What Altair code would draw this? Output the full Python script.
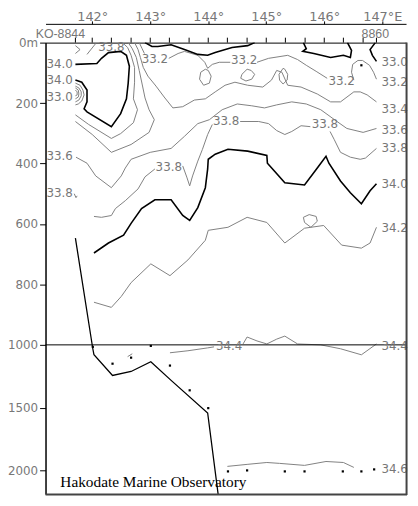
import altair as alt
import pandas as pd

# ---------------- frame / axes values ----------------
lon_domain = [141.195, 147.41]
dep_domain = [0, 1000, 2188]          # piecewise depth scale (0-1000 stretched)
dep_ticks = [0, 200, 400, 600, 800, 1000, 1500, 2000]
lon_ticks = [142, 143, 144, 145, 146, 147]
stations = [141.71, 142.00, 142.33, 142.67, 143.00, 143.33, 143.67, 144.00, 144.33,
            144.67, 145.00, 145.33, 145.67, 146.00, 146.33, 146.67, 146.90]
station_names = ["KO-8844", "8860"]
station_name_lon = [141.45, 146.88]

# ---------------- thick contours (33.0 / 34.0) ----------------
t330a_lon = [142.91, 143.03, 143.13, 143.36, 143.59, 143.82, 143.99, 144.12, 144.41, 144.68, 144.80]
t330a_dep = [0, 13, 13, 7, 23, 39, 42, 33, 16, 10, 0]
t330b_lon = [145.64, 145.69, 145.63, 145.82, 146.11, 146.33, 146.45, 146.47, 146.40]
t330b_dep = [0, 20, 29, 36, 49, 42, 49, 26, 0]
t330c_lon = [146.88, 146.79, 146.83, 146.90]
t330c_dep = [0, 23, 42, 62]
t340a_lon = [141.71, 142.08, 142.16, 142.28, 142.49, 142.59, 142.64, 142.62, 142.59, 142.49,
             142.33, 141.91, 141.86, 141.91, 141.91, 141.82, 141.71]
t340a_dep = [72, 69, 52, 33, 29, 42, 78, 134, 186, 235, 278, 229, 219, 196, 157, 131, 124]
t340b_lon = [142.03, 142.28, 142.54, 142.67, 142.85, 143.08, 143.36, 143.56, 143.68, 143.82,
             143.95, 143.99, 144.00, 144.12, 144.34, 144.68, 145.01, 145.02, 145.14, 145.32,
             145.66, 145.88, 146.03, 146.08, 146.28, 146.45, 146.64, 146.79, 146.90]
t340b_dep = [696, 663, 637, 598, 549, 520, 520, 572, 588, 546, 480, 418, 386, 369, 353, 359,
             373, 399, 425, 464, 471, 415, 376, 399, 458, 497, 533, 490, 467]

# ---------------- thin contours ----------------
c332a_lon = [142.81, 142.86, 142.90]
c332a_dep = [0, 20, 36]
c332b_lon = [143.32, 143.48, 143.59, 143.82, 143.94, 143.99, 144.07, 144.19, 144.38]
c332b_dep = [52, 36, 29, 42, 65, 85, 72, 65, 65]
c332c_lon = [144.84, 145.04, 145.37, 145.54, 145.69, 145.86, 146.05]
c332c_dep = [65, 52, 42, 56, 75, 95, 118]
c332d_lon = [146.51, 146.47, 146.49, 146.58, 146.66, 146.78, 146.85, 146.90]
c332d_dep = [124, 98, 72, 59, 59, 75, 98, 121]
loop1_lon = [144.67, 144.58, 144.56, 144.65, 144.75, 144.80, 144.74, 144.67]
loop1_dep = [88, 105, 118, 127, 121, 105, 92, 88]
loop2_lon = [145.29, 145.22, 145.23, 145.29, 145.36, 145.37, 145.32, 145.29]
loop2_dep = [85, 105, 124, 137, 124, 105, 88, 85]
loop3_lon = [143.95, 143.87, 143.85, 143.92, 144.02, 144.05, 144.00, 143.95]
loop3_dep = [88, 98, 121, 141, 134, 111, 92, 88]
c334_lon = [146.90, 146.74, 146.62, 146.51, 146.28, 146.11, 145.88, 145.60, 145.37, 145.27,
            145.18, 145.09, 144.94, 144.68, 144.46, 144.29, 144.12, 143.95, 143.76, 143.56,
            143.39, 143.24, 143.10, 142.96, 142.88, 142.83, 142.79, 142.73]
c334_dep = [196, 173, 163, 163, 196, 196, 170, 147, 141, 98, 92, 124, 147, 141, 131, 141,
            163, 186, 190, 212, 216, 180, 144, 111, 82, 49, 23, 0]
c336a_lon = [142.62, 142.69, 142.76, 142.81, 142.86, 142.91, 142.98, 143.07, 142.98, 142.67,
             142.33, 142.00, 141.71]
c336a_dep = [0, 20, 49, 92, 137, 183, 222, 255, 297, 337, 363, 304, 261]
c336b_lon = [146.90, 146.67, 146.39, 146.22, 145.94, 145.69, 145.44, 145.18, 144.97, 144.75,
             144.50, 144.24, 144.02, 143.82, 143.59, 143.36, 143.00, 142.67, 142.57, 142.50,
             142.33, 142.06, 141.91, 141.72]
c336b_dep = [284, 297, 284, 261, 222, 203, 196, 206, 216, 209, 203, 222, 255, 268, 310, 350,
             363, 386, 415, 441, 480, 441, 399, 379]
c338a_lon = [142.52, 142.61, 142.67, 142.73, 142.73, 142.71, 142.78, 142.71, 142.49, 142.33,
             141.94, 141.71]
c338a_dep = [0, 16, 42, 82, 131, 186, 222, 265, 301, 317, 271, 239]
c338b_lon = [146.90, 146.71, 146.62, 146.45, 146.28, 146.17, 146.10]
c338b_dep = [350, 382, 386, 379, 363, 320, 294]
c338c_lon = [145.76, 145.60, 145.44, 145.32, 145.18, 145.04, 144.87, 144.55]
c338c_dep = [278, 275, 294, 304, 291, 268, 261, 261]
c338d_lon = [144.07, 143.99, 143.90, 143.82, 143.73, 143.68, 143.63, 143.56]
c338d_dep = [271, 304, 353, 392, 441, 474, 445, 408]
c338e_lon = [143.08, 142.91, 142.79, 142.57, 142.40, 142.33, 142.16, 142.03]
c338e_dep = [418, 444, 484, 523, 549, 572, 578, 575]
c338f_lon = [141.69, 141.72, 141.74]
c338f_dep = [500, 513, 507]
arc1_lon = [141.71, 141.79, 141.84, 141.86, 141.82, 141.76, 141.71]
arc1_dep = [134, 141, 157, 173, 193, 203, 206]
arc2_lon = [141.71, 141.77, 141.81, 141.81, 141.77, 141.71]
arc2_dep = [144, 150, 163, 176, 190, 196]
arc3_lon = [141.71, 141.76, 141.77, 141.76, 141.71]
arc3_dep = [150, 157, 170, 180, 186]
arc4_lon = [141.71, 141.74, 141.74, 141.71]
arc4_dep = [157, 163, 173, 176]
top1_lon = [141.71, 141.79, 141.71]
top1_dep = [10, 23, 36]
top2_lon = [142.06, 141.91]
top2_dep = [3, 39]
c342_lon = [142.03, 142.33, 142.50, 142.67, 143.01, 143.34, 143.65, 143.95, 144.00, 144.34,
            144.67, 145.01, 145.32, 145.66, 145.77, 145.99, 146.30, 146.64, 146.79, 146.90]
c342_dep = [859, 876, 840, 794, 732, 771, 719, 654, 621, 611, 578, 595, 663, 614, 611, 605,
            670, 680, 663, 611]
c342loop_lon = [145.77, 145.66, 145.64, 145.74, 145.86, 145.88, 145.77]
c342loop_dep = [611, 595, 578, 569, 575, 591, 611]
c344a_lon = [143.34, 143.65, 143.99, 144.10]
c344a_dep = [1063, 1047, 1024, 1016]
c344b_lon = [144.60, 144.67, 144.84, 145.01, 145.18, 145.32, 145.54, 145.94, 146.28, 146.64, 146.90]
c344b_dep = [997, 974, 987, 997, 981, 971, 997, 1000, 1031, 1079, 997]
c344c_lon = [142.61, 142.69]
c344c_dep = [1094, 1071]
c346_lon = [144.33, 144.67, 145.01, 145.23, 145.66, 146.03, 146.33, 146.51]
c346_dep = [1968, 1952, 1937, 1944, 1960, 1929, 1937, 1976]

# ---------------- bottom topography and sample dots ----------------
bottom_lon = [141.71, 142.01, 142.03, 142.35, 142.67, 143.01, 143.36, 143.99, 144.17]
bottom_dep = [647, 1031, 1079, 1244, 1212, 1134, 1283, 1543, 2188]
dot_lon = [142.01, 142.35, 142.67, 143.01, 143.34, 143.68, 144.00, 144.34, 144.67, 145.32,
           145.66, 146.32, 146.64, 146.86, 146.64]
dot_dep = [1016, 1150, 1102, 1008, 1165, 1362, 1504, 2008, 2000, 2008, 2008, 2008, 2008, 1992, 75]

# ---------------- contour labels ----------------
right_lab_text = ["33.0", "33.2", "33.4", "33.6", "33.8", "34.0", "34.2", "34.4", "34.6"]
right_lab_dep = [65, 131, 219, 288, 350, 467, 614, 1008, 1992]
right_lab_lon = 146.985
left_lab_text = ["34.0", "34.0", "33.0", "33.6", "33.8"]
left_lab_dep = [72, 124, 180, 376, 497]
left_lab_lon = 141.665
mid_lab_text = ["33.8", "33.2", "33.2", "33.2", "33.8", "33.8", "33.8", "34.4"]
mid_lab_lon = [142.33, 143.08, 144.62, 146.30, 144.31, 146.01, 143.32, 144.36]
mid_lab_dep = [16, 56, 59, 127, 261, 271, 412, 1008]

credit = "Hakodate Marine Observatory"

# ---------------- build tables ----------------
thick = {"t330a": (t330a_lon, t330a_dep), "t330b": (t330b_lon, t330b_dep),
         "t330c": (t330c_lon, t330c_dep), "t340a": (t340a_lon, t340a_dep),
         "t340b": (t340b_lon, t340b_dep)}
thin = {"c332a": (c332a_lon, c332a_dep), "c332b": (c332b_lon, c332b_dep),
        "c332c": (c332c_lon, c332c_dep), "c332d": (c332d_lon, c332d_dep),
        "loop1": (loop1_lon, loop1_dep), "loop2": (loop2_lon, loop2_dep),
        "loop3": (loop3_lon, loop3_dep), "c334": (c334_lon, c334_dep),
        "c336a": (c336a_lon, c336a_dep), "c336b": (c336b_lon, c336b_dep),
        "c338a": (c338a_lon, c338a_dep), "c338b": (c338b_lon, c338b_dep),
        "c338c": (c338c_lon, c338c_dep), "c338d": (c338d_lon, c338d_dep),
        "c338e": (c338e_lon, c338e_dep), "c338f": (c338f_lon, c338f_dep),
        "arc1": (arc1_lon, arc1_dep), "arc2": (arc2_lon, arc2_dep),
        "arc3": (arc3_lon, arc3_dep), "arc4": (arc4_lon, arc4_dep),
        "top1": (top1_lon, top1_dep), "top2": (top2_lon, top2_dep),
        "c342": (c342_lon, c342_dep), "c342loop": (c342loop_lon, c342loop_dep),
        "c344a": (c344a_lon, c344a_dep), "c344b": (c344b_lon, c344b_dep),
        "c344c": (c344c_lon, c344c_dep), "c346": (c346_lon, c346_dep)}


def table(segs):
    rows = []
    for name, (lo, de) in segs.items():
        for i, (a, b) in enumerate(zip(lo, de)):
            rows.append({"seg": name, "lon": a, "dep": b, "i": i})
    return pd.DataFrame(rows)


thick_df = table(thick)
thin_df = table(thin)
bottom_df = pd.DataFrame({"lon": bottom_lon, "dep": bottom_dep, "i": range(len(bottom_lon))})
dots_df = pd.DataFrame({"lon": dot_lon, "dep": dot_dep})
right_df = pd.DataFrame({"lon": right_lab_lon, "dep": right_lab_dep, "t": right_lab_text})
left_df = pd.DataFrame({"lon": left_lab_lon, "dep": left_lab_dep, "t": left_lab_text})
mid_df = pd.DataFrame({"lon": mid_lab_lon, "dep": mid_lab_dep, "t": mid_lab_text})
st_df = pd.DataFrame({"lon": stations})
stn_df = pd.DataFrame({"lon": station_name_lon, "t": station_names})
rule_df = pd.DataFrame({"dep": [1000]})
credit_df = pd.DataFrame({"t": [credit]})
edge_df = pd.DataFrame({"k": [0]})

xscale = alt.Scale(domain=lon_domain, nice=False, zero=False)
yscale = alt.Scale(domain=dep_domain, range=[0, 306, 457], nice=False, zero=False)
xaxis = alt.Axis(orient="top", offset=19, values=lon_ticks,
                 labelExpr="datum.value == 147 ? '147°E' : datum.value + '°'",
                 tickSize=3, labelPadding=0, labelBaseline="alphabetic", labelFontSize=13,
                 labelColor="#777777", labelFont="DejaVu Sans", domainColor="black",
                 tickColor="black", grid=False, title=None, labelFlush=False, labelOverlap=False)
yaxis = alt.Axis(orient="left", values=dep_ticks,
                 labelExpr="datum.value == 0 ? '0m' : datum.value",
                 tickSize=6, labelPadding=2, labelFontSize=12, labelColor="#777777",
                 labelFont="DejaVu Sans", domainColor="black", tickColor="black",
                 grid=False, title=None, labelFlush=False, labelOverlap=False)


def X():
    return alt.X("lon:Q", scale=xscale, axis=xaxis)


def Y():
    return alt.Y("dep:Q", scale=yscale, axis=yaxis)


thin_layer = alt.Chart(thin_df).mark_line(color="#808080", strokeWidth=1, clip=True).encode(
    x=X(), y=Y(), detail="seg:N", order="i:Q")
thick_layer = alt.Chart(thick_df).mark_line(color="black", strokeWidth=1.6, clip=True).encode(
    x=X(), y=Y(), detail="seg:N", order="i:Q")
bottom_layer = alt.Chart(bottom_df).mark_line(color="black", strokeWidth=1.3, clip=True).encode(
    x=X(), y=Y(), order="i:Q")
rule_layer = alt.Chart(rule_df).mark_rule(color="black", strokeWidth=1).encode(y=Y())
dots_layer = alt.Chart(dots_df).mark_square(size=5, color="black", opacity=1).encode(x=X(), y=Y())

lab_style = dict(font="DejaVu Sans", fontSize=12, color="#777777", baseline="middle")
right_layer = alt.Chart(right_df).mark_text(align="left", **lab_style).encode(x=X(), y=Y(), text="t:N")
left_layer = alt.Chart(left_df).mark_text(align="right", **lab_style).encode(x=X(), y=Y(), text="t:N")
mid_layer = alt.Chart(mid_df).mark_text(align="center", **lab_style).encode(x=X(), y=Y(), text="t:N")

st_layer = alt.Chart(st_df).mark_rule(color="black", strokeWidth=1).encode(
    x=X(), y=alt.value(-5), y2=alt.value(0))
stn_layer = alt.Chart(stn_df).mark_text(font="Liberation Sans", fontSize=12.5, color="#777777",
                                        align="center", baseline="alphabetic").encode(
    x=X(), y=alt.value(-5), text="t:N")
credit_layer = alt.Chart(credit_df).mark_text(font="Liberation Serif", fontSize=15.5, color="black",
                                              align="left", baseline="alphabetic").encode(
    x=alt.value(15), y=alt.value(450), text="t:N")
right_edge = alt.Chart(edge_df).mark_rule(color="#444444", strokeWidth=2).encode(
    x=alt.value(365.5), y=alt.value(0), y2=alt.value(458))
bottom_edge = alt.Chart(edge_df).mark_rule(color="#444444", strokeWidth=2).encode(
    x=alt.value(0), x2=alt.value(366), y=alt.value(457.5))

chart = alt.layer(
    thin_layer, thick_layer, bottom_layer, rule_layer, dots_layer,
    right_layer, left_layer, mid_layer, st_layer, stn_layer, credit_layer,
    right_edge, bottom_edge
).properties(
    width=365, height=457,
    autosize=alt.AutoSizeParams(type="none"),
    padding={"left": 38, "top": 32, "right": 4, "bottom": 2},
    background="white",
).configure_view(stroke="black", strokeWidth=1)

chart.save("out.html", embed_options={"renderer": "svg", "actions": False})
